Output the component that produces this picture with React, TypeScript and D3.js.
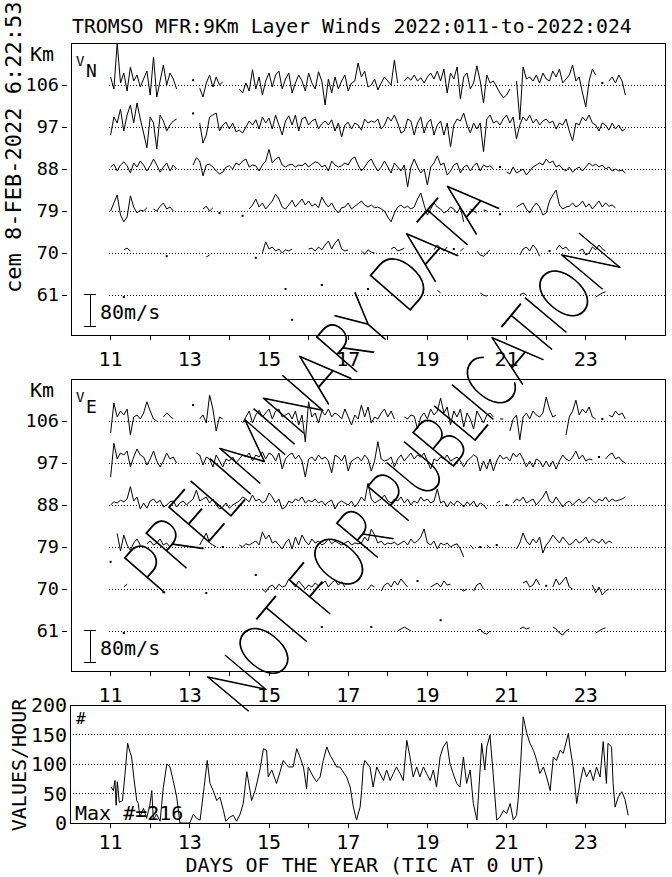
import React from "react";
import * as d3 from "d3";

const _ = null;
// time grid: day 11.0 + i*(2 h)
const T0 = 11;
const DT = 1 / 12;
const DAY_TICKS = [11, 12, 13, 14, 15, 16, 17, 18, 19, 20, 21, 22, 23, 24];
const DAY_LABELS = [11, 13, 15, 17, 19, 21, 23];
const ALTS = [106, 97, 88, 79, 70, 61];
const HIST_TICKS = [0, 50, 100, 150, 200];
const HIST_GRID = [50, 100, 150];

// ---- V_N (m/s deviation), one value every 2 hours ----
const VN_106 = [
  20,-10,105,5,30,-15,45,10,25,-5,15,35,
  -25,70,-30,10,50,0,30,15,-10,_,_,_,
  _,12,_,-8,-30,5,25,-5,20,0,8,_,
  _,_,_,-10,-20,5,-15,38,-10,20,-25,10,
  30,-5,25,35,-10,15,30,-20,5,25,10,-15,
  30,5,-10,33,10,-50,15,-20,20,-10,10,25,
  -15,5,10,55,20,35,-5,0,15,-12,5,20,
  10,0,62,5,_,10,20,12,25,10,18,5,
  20,30,15,35,10,40,-20,30,15,45,-35,20,
  30,-10,5,48,10,-45,25,5,10,-5,-20,-32,
  -25,-10,_,10,-87,45,15,20,10,25,5,30,
  15,10,35,20,40,5,15,25,50,10,20,-20,
  -55,10,40,25,_,5,_,10,20,5,25,10,
  -25];
const VN_97 = [
  -20,25,10,45,-10,30,55,10,60,20,-15,-52,
  25,10,-55,30,15,-10,5,15,20,_,_,_,
  _,34,_,10,-40,-20,25,30,35,-10,5,12,
  -5,10,-12,-8,-15,0,15,5,18,-5,25,10,
  22,-5,30,5,-20,15,28,5,30,-10,20,25,
  5,15,20,-5,8,15,5,18,-10,10,-25,5,
  12,-5,10,5,-8,20,10,15,12,20,-5,5,
  25,15,30,10,-15,-10,20,15,-20,10,25,-15,
  10,20,-20,5,15,-20,10,-50,5,20,15,35,
  5,-15,10,-5,10,-62,20,30,10,15,5,20,
  30,10,25,-30,5,25,15,30,10,20,5,15,
  20,10,15,-5,10,5,20,-10,-35,10,5,25,
  15,30,10,5,-10,10,5,-8,10,-5,5,-10,
  -5];
const VN_88 = [
  5,12,-5,10,18,8,-10,15,5,20,10,-5,
  8,25,10,-8,5,15,-5,10,0,_,_,_,
  _,10,28,20,-17,10,12,5,-5,-12,-8,5,
  8,0,15,10,20,25,5,10,8,-5,10,20,
  49,15,25,30,10,5,10,12,5,10,8,15,
  5,12,18,15,5,10,-5,20,10,5,8,15,
  10,25,30,10,-5,5,18,25,8,-5,5,20,
  5,-10,15,5,-5,10,-45,5,25,5,-10,0,
  -40,5,15,33,10,15,-15,-5,10,15,-10,5,
  10,-5,8,15,-5,10,5,8,0,_,5,_,
  -8,-12,5,-10,-5,0,-15,-5,5,10,15,10,
  25,15,20,5,10,0,-5,5,-8,0,5,-5,
  5,15,8,12,5,10,0,5,-5,0,-5,-3,
  -10];
const VN_79 = [
  0,20,40,-10,-27,-15,38,10,-5,2,0,8,
  _,5,0,12,20,5,10,0,_,_,_,_,
  _,_,_,_,5,12,0,8,_,-5,_,_,
  _,_,_,_,-12,_,5,15,30,10,20,5,
  15,25,42,30,10,5,15,27,10,20,30,15,
  25,12,18,8,35,20,10,20,5,-5,8,10,
  20,5,12,18,25,15,10,15,8,10,5,0,
  -15,-27,-5,10,15,8,12,5,10,30,45,15,
  -10,5,20,10,5,-5,0,10,5,-5,10,-27,
  _,5,0,-5,_,3,0,_,_,_,-8,_,
  _,_,_,10,15,20,5,-5,10,20,10,-10,
  -5,25,40,52,15,5,10,12,20,10,15,25,
  10,18,5,15,25,10,20,12,15,8,_,_,
  _];
const VN_70 = [
  _,_,_,_,8,12,5,_,_,_,_,_,
  _,_,_,_,_,-8,_,_,_,_,_,_,
  _,_,_,_,_,-10,-5,_,_,_,_,_,
  _,_,_,_,_,_,_,_,-12,_,0,28,
  10,15,5,10,0,8,5,10,_,_,_,_,
  10,12,5,15,8,20,30,10,25,35,10,5,
  8,_,_,_,5,-3,8,2,0,_,_,_,
  _,10,15,5,8,12,_,_,_,_,_,_,
  _,_,8,20,12,5,15,_,10,_,5,12,
  _,_,_,5,-5,-8,0,8,_,_,_,_,
  _,_,_,_,-5,10,15,5,20,10,-8,_,
  _,5,_,8,20,10,15,5,_,_,5,10,
  -5,0,15,8,20,10,5,_,_,_,_,_,
  _];
const VN_61 = [
  _,_,_,_,-5,_,_,_,_,_,_,_,
  _,_,_,_,_,_,_,_,_,_,_,_,
  _,_,_,_,_,_,_,_,_,_,_,_,
  _,_,_,_,_,_,_,_,_,_,_,_,
  _,_,_,_,_,15,_,-62,_,_,_,_,
  _,_,_,_,25,_,_,_,_,_,_,_,
  _,_,_,_,_,_,15,_,_,_,_,_,
  _,_,_,_,_,_,_,_,_,_,_,_,
  _,_,_,12,5,_,_,_,_,_,_,_,
  _,_,_,_,5,0,-3,_,_,_,_,_,
  _,_,_,_,0,5,0,_,_,_,_,_,
  _,_,_,_,_,_,_,_,_,_,_,_,
  _,_,_,-5,0,5,8,_,_,_,_,_,
  _];

// ---- V_E ----
const VE_106 = [
  -30,45,10,25,15,30,-35,10,15,5,20,48,
  25,5,0,_,10,20,12,5,_,_,_,_,
  _,40,_,5,15,-5,65,30,-25,10,5,_,
  _,_,_,_,-5,10,25,-5,15,27,10,20,
  30,5,25,30,10,15,20,5,25,-10,15,-52,
  48,10,20,-5,25,15,30,10,20,15,5,30,
  10,-10,15,5,40,10,35,-5,10,5,20,30,
  10,25,5,_,_,10,5,15,12,-20,10,20,
  5,30,15,25,57,20,35,-10,25,10,30,-15,
  20,5,-20,25,10,-5,15,20,10,_,5,5,
  _,-25,5,15,-47,10,20,5,25,15,10,20,
  60,30,10,15,_,_,-35,10,25,52,15,30,
  20,35,10,5,_,5,_,15,10,25,15,20,
  5];
const VE_97 = [
  -35,49,10,25,20,30,-10,15,35,20,15,-5,
  10,30,5,-10,5,25,10,15,0,_,_,_,
  _,_,25,20,-5,15,10,-10,20,5,-10,10,
  5,15,0,10,20,15,25,5,20,15,28,10,
  25,20,5,25,-15,10,20,25,10,20,5,-35,
  10,15,5,20,10,15,5,-25,20,15,5,20,
  -20,5,10,15,5,20,10,-20,5,53,10,5,
  8,15,-10,10,20,5,15,25,10,20,15,25,
  5,-15,10,5,15,10,20,5,10,15,5,-10,
  5,12,20,15,-20,5,-15,10,-20,5,20,10,
  15,5,25,15,25,10,-10,5,-10,10,5,-10,
  5,-10,5,-15,5,20,10,5,15,30,10,20,
  5,10,8,_,15,_,10,20,25,10,15,5,
  0];
const VE_88 = [
  0,8,5,12,8,15,46,10,20,-10,5,-8,
  10,15,5,12,-5,0,8,10,-5,5,10,0,
  8,15,37,10,15,20,5,15,0,-10,-5,5,
  -8,0,5,10,20,15,8,25,10,15,5,10,
  30,20,5,15,-10,-5,10,5,15,10,20,5,
  12,8,15,5,10,0,8,12,-10,5,10,5,
  0,10,-5,5,20,10,54,15,5,10,15,25,
  10,5,15,10,20,5,15,0,10,5,20,10,
  15,5,10,40,5,10,-5,8,0,10,5,-5,
  8,0,10,-5,5,0,-10,_,_,5,10,_,
  0,_,5,15,10,20,5,10,15,0,10,20,
  35,10,5,20,8,-5,5,10,0,8,15,5,
  10,20,12,5,15,10,20,8,15,10,12,15,
  20];
const VE_79 = [
  -37,_,34,-10,30,5,-8,10,20,5,_,8,
  15,5,10,20,5,10,0,_,_,_,_,_,
  _,_,_,5,20,35,10,5,0,_,0,_,
  _,_,_,5,0,8,5,10,15,5,38,20,
  30,10,15,5,-5,10,20,-5,25,5,30,15,
  5,20,10,15,5,10,20,8,15,10,5,10,
  15,5,10,8,10,25,15,45,30,10,15,5,
  10,8,12,5,10,15,5,20,10,15,25,45,
  10,5,15,-5,10,5,10,0,5,8,-5,-25,
  _,5,-5,_,0,_,5,-3,_,5,_,_,
  _,_,_,-5,10,35,15,5,20,10,25,-15,
  5,15,30,20,10,25,15,5,10,20,10,15,
  25,10,20,15,10,20,8,15,10,_,_,_,
  _];
const VE_70 = [
  _,_,_,_,5,12,_,_,_,_,_,_,
  _,_,_,_,-8,_,_,_,_,_,_,_,
  _,_,_,_,_,-10,_,_,_,_,_,_,
  _,_,_,_,_,_,_,_,35,_,0,-8,
  5,10,0,12,5,8,25,15,5,20,10,0,
  10,5,15,8,12,20,5,15,22,10,18,5,
  _,_,_,_,_,_,0,10,5,_,-5,10,
  15,5,20,10,25,15,5,_,_,20,_,_,
  _,5,10,15,5,20,10,12,_,_,0,-5,
  0,_,-5,10,15,0,_,_,_,_,_,_,
  _,_,_,_,_,15,20,5,10,25,10,_,
  8,_,5,25,10,20,30,5,0,_,_,_,
  _,_,10,-10,5,-15,-5,0,_,_,_,_,
  _];
const VE_61 = [
  _,_,_,_,-5,_,_,_,_,_,_,_,
  _,_,_,_,_,_,_,_,_,_,_,_,
  _,_,_,_,_,_,_,_,_,_,_,_,
  _,_,_,_,_,_,_,_,_,_,_,_,
  _,_,_,_,_,_,_,_,_,_,_,_,
  _,_,_,_,10,_,_,_,_,_,_,_,
  _,_,_,_,_,_,_,10,_,_,_,_,
  _,_,_,0,5,10,5,0,_,_,_,_,
  _,_,_,_,27,_,_,_,_,_,_,_,
  _,_,_,0,5,-5,-8,0,_,_,_,_,
  _,_,_,_,5,10,5,8,_,_,_,_,
  _,_,10,5,-5,-10,0,5,_,_,_,_,
  _,_,_,-5,0,5,8,_,_,_,_,_,
  _];

// ---- values per hour ----
const HIST_DAY = [
  11.01,11.07,11.11,11.14,11.17,11.22,11.30,11.36,11.43,11.49,11.53,11.59,11.66,11.70,11.74,11.83,11.91,11.99,
  12.04,12.08,12.16,12.25,12.33,12.42,12.50,12.58,12.67,12.75,13.00,13.09,13.17,13.26,13.36,13.44,13.51,13.59,
  13.68,13.76,13.85,13.91,14.01,14.10,14.18,14.27,14.35,14.44,14.52,14.56,14.65,14.77,14.86,14.94,14.98,15.07,
  15.19,15.28,15.36,15.49,15.61,15.70,15.78,15.87,15.95,15.99,16.12,16.20,16.29,16.37,16.46,16.54,16.62,16.71,
  16.79,16.96,17.05,17.13,17.21,17.30,17.34,17.38,17.42,17.55,17.63,17.72,17.80,17.89,17.97,18.06,18.14,18.22,
  18.31,18.39,18.48,18.56,18.64,18.73,18.81,18.90,18.98,19.07,19.15,19.23,19.32,19.40,19.49,19.57,19.65,19.74,
  19.82,19.91,19.99,20.08,20.16,20.25,20.33,20.37,20.45,20.50,20.58,20.66,20.75,20.83,20.92,21.00,21.09,21.17,
  21.25,21.29,21.34,21.42,21.51,21.59,21.68,21.76,21.84,21.93,22.01,22.10,22.18,22.26,22.35,22.43,22.56,22.60,
  22.68,22.77,22.85,22.94,23.02,23.11,23.19,23.27,23.36,23.44,23.52,23.56,23.65,23.69,23.74,23.82,23.91,23.99,
  24.07];
const HIST_COUNT = [
  61,55,72,30,70,35,38,80,135,120,112,75,38,33,10,25,8,30,
  55,5,15,3,60,100,95,72,44,0,0,15,8,5,60,106,67,55,
  38,44,21,3,10,13,3,15,33,87,55,38,55,90,126,123,78,90,
  67,87,106,95,95,126,112,95,58,95,78,70,78,106,129,115,106,95,
  95,78,61,27,5,27,55,95,106,95,61,95,84,72,90,72,84,95,
  84,72,140,112,78,95,78,95,84,72,90,61,112,129,138,100,84,67,
  61,112,67,90,33,5,90,135,90,129,149,84,5,10,21,16,33,5,
  13,38,84,180,152,135,123,106,84,95,78,55,112,106,123,118,152,129,
  95,33,67,95,78,90,72,95,78,138,67,135,129,67,27,44,53,40,
  13];

const FONT = "'DejaVu Sans Mono', 'Liberation Mono', monospace";
const FS = 20;

type Vals = (number | null)[];

export default function App() {
  const W = 672, H = 877;
  const x = d3.scaleLinear().domain([10, 25]).range([71, 665]);
  const tAt = (i: number) => T0 + i * DT;
  const wind = d3.scaleLinear().domain([0, 80]).range([0, 32]);
  const yH = d3.scaleLinear().domain([0, 200]).range([823, 705]);

  const panels = [
    { top: 43, bottom: 335, comp: "N", rows: [VN_106, VN_97, VN_88, VN_79, VN_70, VN_61],
      yAlt: d3.scaleLinear().domain([61, 106]).range([295, 85]) },
    { top: 379, bottom: 671, comp: "E", rows: [VE_106, VE_97, VE_88, VE_79, VE_70, VE_61],
      yAlt: d3.scaleLinear().domain([61, 106]).range([631, 421]) },
  ];

  const trace = (vals: Vals, base: number, key: string) => {
    const line = d3.line<number | null>()
      .defined((v) => v !== null)
      .x((_v, i) => x(tAt(i)))
      .y((v) => base - wind(v as number));
    const lone = vals
      .map((v, i) => ({ v, i }))
      .filter(({ v, i }) => v !== null && (i === 0 || vals[i - 1] === null) && (i === vals.length - 1 || vals[i + 1] === null));
    return (
      <g key={key}>
        <path d={line(vals) || ""} fill="none" stroke="#000" strokeWidth={1} />
        {lone.map(({ v, i }) => (
          <rect key={i} x={x(tAt(i)) - 1} y={base - wind(v as number) - 1} width={2} height={2} fill="#000" />
        ))}
      </g>
    );
  };

  const histLine = d3.line<number>()
    .x((_d, i) => x(HIST_DAY[i]))
    .y((d) => yH(d));

  return (
    <svg width={W} height={H} style={{ position: "absolute", left: 0, top: 0, background: "#fff" }}
      fontFamily={FONT}>
      <rect x={0} y={0} width={W} height={H} fill="#fff" />
      <text x={72} y={33} fontSize={19.8}>TROMSO MFR:9Km Layer Winds 2022:011-to-2022:024</text>
      <text transform="translate(21,293) rotate(-90)" fontSize={22}>cem 8-FEB-2022 6:22:53</text>

      {panels.map((p, pi) => (
        <g key={pi}>
          <rect x={x(10)} y={p.top} width={x(25) - x(10)} height={p.bottom - p.top} fill="none" stroke="#000" shapeRendering="crispEdges" />
          <text x={30} y={p.top + 18} fontSize={FS}>Km</text>
          <text x={76} y={p.top + 23} fontSize={14}>V</text>
          <text x={86} y={p.top + 34} fontSize={18}>{p.comp}</text>
          {ALTS.map((a) => (
            <g key={a}>
              <line x1={62} x2={67} y1={p.yAlt(a)} y2={p.yAlt(a)} stroke="#000" shapeRendering="crispEdges" />
              <text x={59} y={p.yAlt(a) + 6} fontSize={18.5} textAnchor="end">{a}</text>
              <line x1={x(11) - 2} x2={x(25)} y1={p.yAlt(a)} y2={p.yAlt(a)} stroke="#000" strokeDasharray="1 2" shapeRendering="crispEdges" />
            </g>
          ))}
          {p.rows.map((r, ri) => trace(r, p.yAlt(ALTS[ri]), `r${ri}`))}
          {/* scale bar 80 m/s */}
          <g shapeRendering="crispEdges" stroke="#000">
            <line x1={90} x2={90} y1={p.yAlt(61) - 1} y2={p.yAlt(61) - 1 + wind(80)} />
            <line x1={84} x2={96} y1={p.yAlt(61) - 1} y2={p.yAlt(61) - 1} />
            <line x1={84} x2={96} y1={p.yAlt(61) - 1 + wind(80)} y2={p.yAlt(61) - 1 + wind(80)} />
          </g>
          <text x={100} y={p.yAlt(61) + 24} fontSize={FS}>80m/s</text>
          {DAY_TICKS.map((d) => (
            <line key={d} x1={x(d)} x2={x(d)} y1={p.bottom} y2={p.bottom + 5} stroke="#000" shapeRendering="crispEdges" />
          ))}
          {DAY_LABELS.map((d) => (
            <text key={d} x={x(d)} y={p.bottom + 31} fontSize={FS} textAnchor="middle">{d}</text>
          ))}
        </g>
      ))}

      {/* histogram panel */}
      <g>
        <rect x={70} y={yH(200)} width={x(25) - 70} height={yH(0) - yH(200)} fill="none" stroke="#000" shapeRendering="crispEdges" />
        {HIST_GRID.map((g) => (
          <line key={g} x1={70} x2={x(25)} y1={yH(g)} y2={yH(g)} stroke="#000" strokeDasharray="1 2" shapeRendering="crispEdges" />
        ))}
        {HIST_TICKS.map((t) => (
          <text key={t} x={67} y={yH(t) + 7} fontSize={FS} textAnchor="end">{t}</text>
        ))}
        <text transform={`translate(26,765) rotate(-90)`} fontSize={FS} textAnchor="middle">VALUES/HOUR</text>
        <text x={76} y={724} fontSize={16}>#</text>
        <text x={75} y={820} fontSize={FS}>Max #=216</text>
        <path d={histLine(HIST_COUNT) || ""} fill="none" stroke="#000" strokeWidth={1} />
        {DAY_TICKS.map((d) => (
          <line key={d} x1={x(d)} x2={x(d)} y1={823} y2={828} stroke="#000" shapeRendering="crispEdges" />
        ))}
        {DAY_LABELS.map((d) => (
          <text key={d} x={x(d)} y={849} fontSize={FS} textAnchor="middle">{d}</text>
        ))}
        <text x={366} y={872} fontSize={FS} textAnchor="middle">DAYS OF THE YEAR (TIC AT 0 UT)</text>
      </g>

      {/* watermark */}
      <g fontFamily="Lato, Roboto, Inter, 'DejaVu Sans'" fontWeight={100} fill="#000" stroke="#000" strokeWidth={1.1}>
        <text transform="translate(160,598) rotate(-49)" fontSize={76} textLength={518} lengthAdjust="spacingAndGlyphs">PRELIMINARY DATA</text>
        <text transform="translate(244,716) rotate(-50)" fontSize={76} textLength={592} lengthAdjust="spacingAndGlyphs">NOT FOR PUBLICATION</text>
      </g>
    </svg>
  );
}
